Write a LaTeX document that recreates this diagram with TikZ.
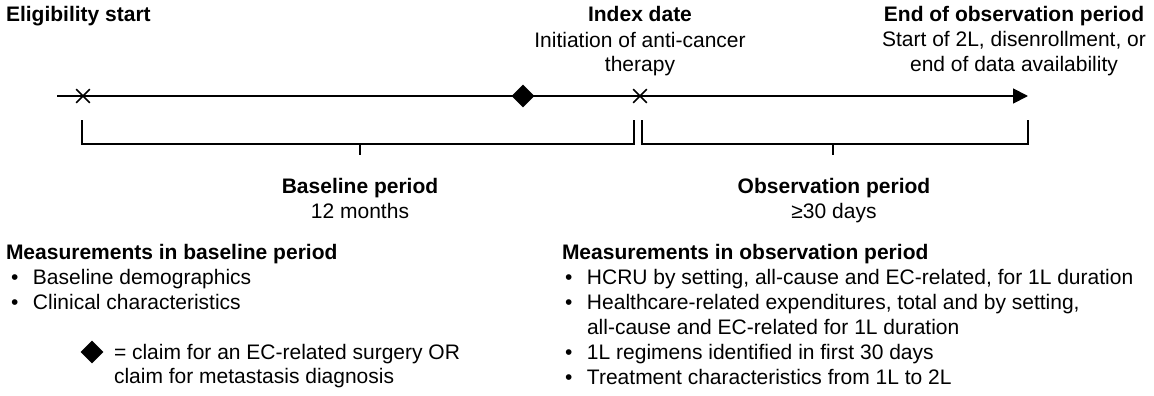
\documentclass[tikz,border=0pt]{standalone}
\usepackage{fontspec}
\setmainfont{Liberation Sans}
\usetikzlibrary{arrows.meta,shapes.geometric,shapes.misc}
\newcommand{\bul}{\makebox[22pt][l]{\textbullet}}
\begin{document}
\begin{tikzpicture}[x=1pt,y=-1pt,
  txt/.style={inner sep=0pt, outer sep=0pt, anchor=base, font=\fontsize{21}{25}\selectfont},
  hd/.style={txt, font=\fontsize{21}{25}\selectfont\bfseries},
  lft/.style={anchor=base west},
  ln/.style={line width=1.8pt, line cap=butt},
  xmark/.style={cross out, draw, line width=1.6pt, minimum size=12pt, inner sep=0pt},
  dmd/.style={diamond, fill=black, inner sep=0pt, minimum width=23pt, minimum height=23pt}]
\useasboundingbox (0,0) rectangle (1154,396);

% timeline
\coordinate (tstart) at (57,96);
\coordinate (tend) at (1028,96);
\draw[ln, -{Triangle[length=15pt,width=15pt]}] (tstart) -- (tend);
\node[xmark] (xelig) at (83,96) {};
\node[dmd] (dia) at (523,96) {};
\node[xmark] (xindex) at (640,96) {};

% top labels
\node[hd, lft] (elig) at (6,22) {Eligibility start};
\node[hd] (idx) at (640,22) {Index date};
\node[txt] (idx1) at (640,48) {Initiation of anti-cancer};
\node[txt] (idx2) at (640,72) {therapy};
\node[hd] (endobs) at (1014,22) {End of observation period};
\node[txt] (endobs1) at (1014,47) {Start of 2L, disenrollment, or};
\node[txt] (endobs2) at (1014,72) {end of data availability};

% brackets
\coordinate (b1) at (82,120);
\coordinate (b2) at (634,120);
\coordinate (bt) at (360,144);
\coordinate (bt2) at (360,155);
\draw[ln] (b1) -- ++(0,24) -| (b2);
\draw[ln] (bt) -- (bt2);
\coordinate (o1) at (642,120);
\coordinate (o2) at (1028,120);
\coordinate (ot) at (833,144);
\coordinate (ot2) at (833,155);
\draw[ln] (o1) -- ++(0,24) -| (o2);
\draw[ln] (ot) -- (ot2);

% period labels
\node[hd] (bp) at (360,193) {Baseline period};
\node[txt] (bp1) at (360,218) {12 months};
\node[hd] (op) at (834,193) {Observation period};
\node[txt] (op1) at (834,218) {≥30 days};

% baseline measurements
\node[hd, lft] (mb) at (6,259) {Measurements in baseline period};
\node[txt, lft] (mb1) at (11,284) {\bul Baseline demographics};
\node[txt, lft] (mb2) at (11,309) {\bul Clinical characteristics};

% legend
\node[dmd] (ldia) at (92,352) {};
\node[txt, lft] (leg1) at (114,359) {= claim for an EC-related surgery OR};
\node[txt, lft] (leg2) at (114,383) {claim for metastasis diagnosis};

% observation measurements
\node[hd, lft] (mo) at (562,259) {Measurements in observation period};
\node[txt, lft] (mo1) at (565,284) {\bul HCRU by setting, all-cause and EC-related, for 1L duration};
\node[txt, lft] (mo2) at (565,309) {\bul Healthcare-related expenditures, total and by setting,};
\node[txt, lft] (mo2b) at (587,334) {all-cause and EC-related for 1L duration};
\node[txt, lft] (mo3) at (565,359) {\bul 1L regimens identified in first 30 days};
\node[txt, lft] (mo4) at (565,384) {\bul Treatment characteristics from 1L to 2L};
\end{tikzpicture}
\end{document}
